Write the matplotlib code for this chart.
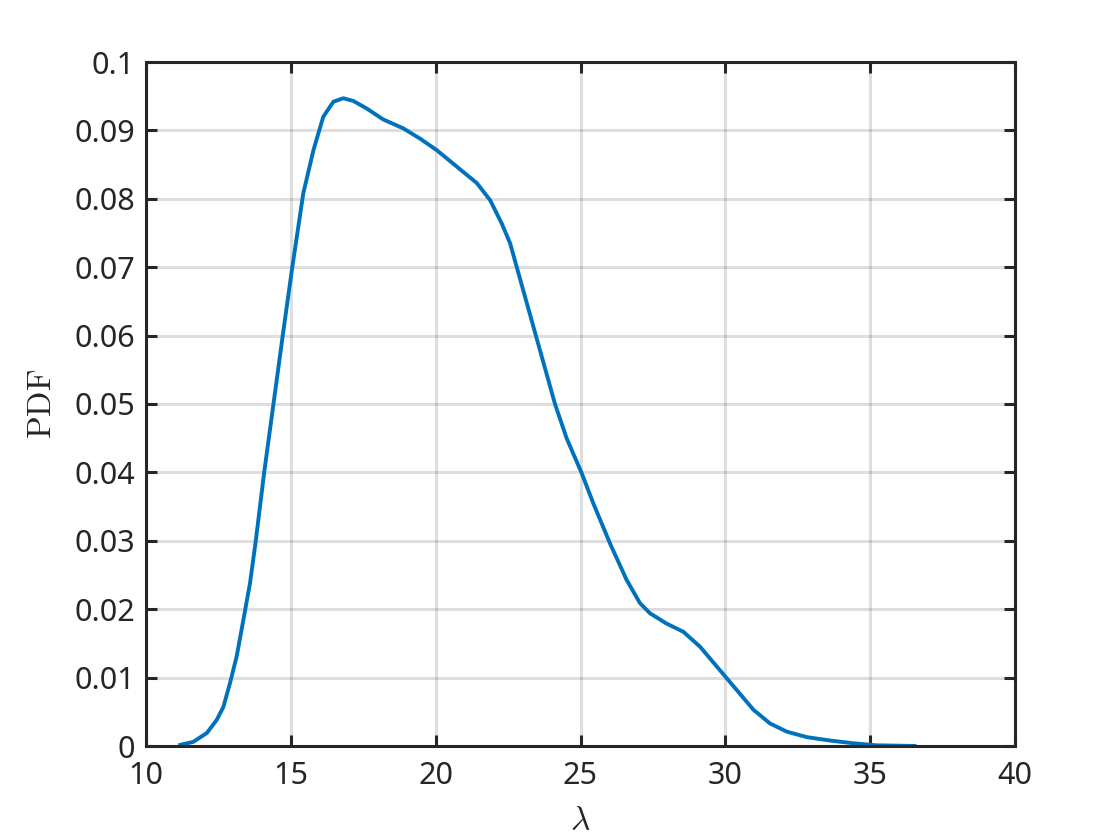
import matplotlib
matplotlib.use("Agg")
import matplotlib.pyplot as plt

lam = [11.12, 11.63, 12.1, 12.44, 12.67, 12.9, 13.13, 13.36, 13.59, 13.79, 14.08, 14.40,
       14.72, 15.05, 15.43, 15.78, 16.12, 16.47, 16.81, 17.16, 17.62, 18.19, 18.88, 19.46,
       20.04, 20.73, 21.42, 21.88, 22.28, 22.57, 22.80, 23.46, 24.12, 24.52, 25.04, 25.44,
       26.02, 26.59, 27.05, 27.4, 27.97, 28.55, 29.13, 29.75, 30.39, 30.97, 31.54, 32.12,
       32.81, 33.61, 34.42, 35.22, 36.6]
pdf = [0.0001, 0.0006, 0.0019, 0.0038, 0.0057, 0.0092, 0.0131, 0.0184, 0.0238, 0.0300,
       0.0400, 0.0500, 0.0600, 0.0700, 0.0808, 0.0871, 0.0920, 0.0942, 0.0947, 0.0943,
       0.0932, 0.0916, 0.0903, 0.0888, 0.0871, 0.0847, 0.0823, 0.0798, 0.0764, 0.0735,
       0.0700, 0.0600, 0.0500, 0.0450, 0.0399, 0.0355, 0.0296, 0.0243, 0.0209, 0.0194,
       0.0179, 0.0167, 0.0145, 0.0114, 0.0082, 0.0053, 0.0033, 0.0021, 0.0013, 0.0008,
       0.0004, 0.0001, 0.0]

xticks = [10, 15, 20, 25, 30, 35, 40]
yticks = [0, 0.01, 0.02, 0.03, 0.04, 0.05, 0.06, 0.07, 0.08, 0.09, 0.1]
ytick_labels = ["0", "0.01", "0.02", "0.03", "0.04", "0.05", "0.06", "0.07", "0.08", "0.09", "0.1"]

plt.rcParams['font.family'] = ['Noto Sans', 'DejaVu Sans']
plt.rcParams['mathtext.fontset'] = 'cm'

fig = plt.figure(figsize=(11.2, 8.4), dpi=100)
ax = fig.add_axes([146/1120, 1 - 746/840, (1015-146)/1120, (746-62)/840])
ax.plot(lam, pdf, color='#0072BD', lw=2.8, solid_capstyle='butt', solid_joinstyle='round')
ax.set_xlim(10, 40)
ax.set_ylim(0, 0.1)
ax.set_xticks(xticks)
ax.set_xticklabels([str(t) for t in xticks])
ax.set_yticks(yticks)
ax.set_yticklabels(ytick_labels)
ax.grid(True, color='#262626', alpha=0.15, lw=2.2)
ax.set_axisbelow(True)
for s in ax.spines.values():
    s.set_linewidth(2.2)
    s.set_color('#262626')
ax.tick_params(direction='in', length=8, width=2.2, color='#262626', labelcolor='#262626',
               labelsize=22, top=True, right=True, pad=8)
ax.tick_params(axis='x', pad=11)
ax.set_xlabel(r'$\lambda$', fontsize=24, color='#262626', labelpad=10)
ax.set_ylabel(r'$\mathrm{PDF}$', fontsize=24, color='#262626', labelpad=11)
fig.savefig('out.png', dpi=100)
